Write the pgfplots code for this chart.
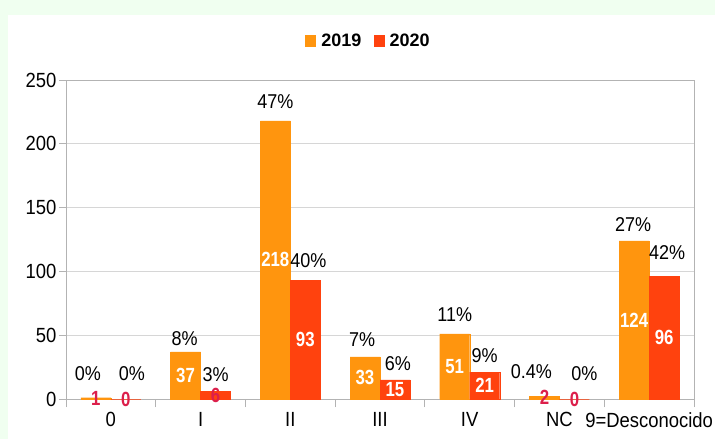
\documentclass[border=0pt]{standalone}
\usepackage{fontspec}
\setmainfont{Liberation Sans}[FakeStretch=0.9]
\newfontfamily\valfont{Liberation Sans}[FakeStretch=0.82]
\newfontfamily\legfont{Liberation Sans}
\usepackage{pgfplots}
\usepackage{pgfplotstable}
\pgfplotsset{compat=1.18}
\definecolor{c19}{HTML}{FF950E}
\definecolor{c20}{HTML}{FF420E}
\definecolor{labred}{HTML}{DC1F4B}
\definecolor{bggreen}{HTML}{F0FFF0}
\definecolor{axgray}{HTML}{B3B3B3}
\definecolor{gridgray}{HTML}{D6D6D6}

\pgfplotstableread{
x v p o dx
0 1 0 16 -8
1 37 8 5 -1
2 218 47 11 0
3 33 7 9 -3
4 51 11 11 0
5 2 0.4 17 -13
6 124 27 8 -1
}\dataA
\pgfplotstableread{
x v p o dx
0 0 0 17 6
1 6 3 8 0
2 93 40 11 3
3 15 6 8 3
4 21 9 8 0
5 0 0 17 10
6 96 42 16 3
}\dataB

\pgfplotsset{
  vallabels/.style={
    visualization depends on={\thisrow{v}\as\val},
    nodes near coords={\pgfmathfloattofixed{\pgfplotspointmeta}\ifdim\pgfmathresult pt<10pt \color{labred}\else\color{white}\fi\pgfmathprintnumber{\pgfplotspointmeta}},
    every node near coord/.append style={anchor=center, xshift=#1, yshift={-0.6405*\val},
      inner sep=0pt, font=\valfont\bfseries\fontsize{20.5bp}{22bp}\selectfont}},
  pctlabels/.style={
    point meta=explicit symbolic,
    visualization depends on={\thisrow{o}\as\off},
    visualization depends on={\thisrow{dx}\as\dx},
    nodes near coords={\pgfplotspointmeta\%},
    every node near coord/.append style={anchor=south, xshift=#1, xshift={\dx}, yshift={\off}, inner sep=1bp, black,
      font=\fontsize{20bp}{22bp}\selectfont}},
}

\begin{document}
\begin{tikzpicture}
\useasboundingbox (0bp,0bp) rectangle (715bp,439bp);
\fill[bggreen] (0bp,0bp) rectangle (715bp,439bp);
\fill[white] (8bp,0bp) rectangle (715bp,424bp);
\begin{axis}[
  at={(66bp,40bp)}, anchor=south west,
  width=628bp, height=319bp, scale only axis,
  clip=false,
  xmin=-0.5, xmax=6.5, ymin=0, ymax=250,
  ytick={0,50,...,250},
  xtick={0,1,2,3,4,5,6},
  xticklabels={0,I,II,III,IV,NC,9=Desconocido},
  minor xtick={-0.5,0.5,...,6.5},
  major x tick style={draw=none},
  tick align=outside,
  tick pos=left,
  major tick length=7bp,
  minor tick length=8bp,
  tick style={axgray, line width=0.8bp},
  axis line style={axgray, line width=0.9bp},
  ymajorgrids,
  major grid style={gridgray, line width=0.8bp},
  /pgf/number format/assume math mode=true,
  tick label style={font=\fontsize{20.5bp}{22bp}\selectfont, black},
  yticklabel style={xshift=1bp},
  xticklabel style={yshift=-3bp},
  legend columns=2,
  legend style={at={(0.4817,1.1223)}, anchor=center, draw=none, fill=none,
    font=\legfont\bfseries\fontsize{18bp}{20bp}\selectfont,
    /tikz/every even column/.append style={column sep=10bp}},
]
% 2019 bars with value labels
\addplot[ybar, bar width=30bp, bar shift=-15bp, fill=c19, draw=c19, line width=0.4bp,
  legend image code/.code={\path[draw=none,fill=none] (0bp,0bp) -- (14bp,0bp);\fill[c19] (0bp,-5.5bp) rectangle (10bp,5.5bp);},
  vallabels=-15bp]
  table[x=x, y=v]{\dataA};
% 2020 bars with value labels
\addplot[ybar, bar width=30bp, bar shift=15bp, fill=c20, draw=c20, line width=0.4bp,
  legend image code/.code={\path[draw=none,fill=none] (0bp,0bp) -- (14bp,0bp);\fill[c20] (0bp,-5.5bp) rectangle (10bp,5.5bp);},
  vallabels=15bp]
  table[x=x, y=v]{\dataB};
% percent labels 2019
\addplot[ybar, bar width=30bp, bar shift=-15bp, draw=none, fill=none, forget plot,
  pctlabels=-15bp]
  table[x=x, y=v, meta=p]{\dataA};
% percent labels 2020
\addplot[ybar, bar width=30bp, bar shift=15bp, draw=none, fill=none, forget plot,
  pctlabels=15bp]
  table[x=x, y=v, meta=p]{\dataB};
\legend{2019,2020}
\end{axis}
\end{tikzpicture}
\end{document}
